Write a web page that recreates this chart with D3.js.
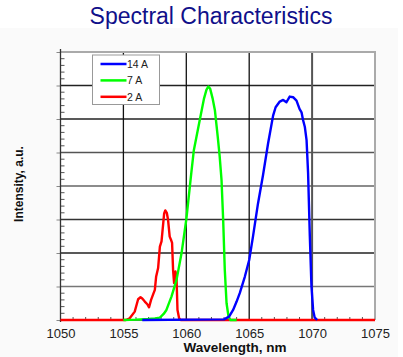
<!DOCTYPE html>
<html>
<head>
<meta charset="utf-8">
<script src="https://cdn.jsdelivr.net/npm/d3@7"></script>
<style>
html,body{margin:0;padding:0;background:#fff;}
svg{display:block;font-family:"Liberation Sans",Arial,sans-serif;}
</style>
</head>
<body>
<svg id="chart" width="403" height="357"></svg>
<script>
// ---- data ----
const seriesNames = ["14 A", "7 A", "2 A"];
const seriesColors = ["#0000ff", "#00ff00", "#ff0000"];
const xTicks = [1050, 1055, 1060, 1065, 1070, 1075];

const blueWl = [1056.5, 1063.0, 1063.4, 1063.72, 1064.0, 1064.25, 1064.65, 1065.0, 1065.3, 1065.7, 1066.1, 1066.5, 1066.9, 1067.1, 1067.43, 1067.7, 1067.96, 1068.22, 1068.49, 1068.76, 1069.0, 1069.16, 1069.28, 1069.42, 1069.56, 1069.68, 1069.82, 1069.95, 1070.08, 1070.2, 1070.4];
const blueVal = [0, 0.02, 0.1, 0.3, 0.55, 0.8, 1.29, 1.79, 2.49, 3.48, 4.33, 5.27, 6.1, 6.35, 6.52, 6.57, 6.5, 6.67, 6.65, 6.55, 6.3, 6.2, 5.97, 5.77, 5.37, 4.4, 2.49, 1.0, 0.3, 0.08, 0];

const greenWl = [1055, 1056, 1057, 1057.5, 1057.9, 1058.2, 1058.42, 1058.82, 1059.22, 1059.62, 1060.0, 1060.4, 1060.6, 1061.07, 1061.4, 1061.6, 1061.75, 1061.9, 1062.1, 1062.27, 1062.5, 1062.65, 1062.8, 1062.93, 1063.06, 1063.2, 1063.35, 1063.5, 1064];
const greenVal = [0, 0.01, 0.03, 0.05, 0.07, 0.18, 0.3, 0.7, 1.19, 1.99, 3.0, 4.4, 5.07, 5.97, 6.6, 6.87, 6.97, 6.9, 6.6, 6.27, 5.47, 4.9, 4.18, 3.0, 1.49, 0.5, 0.12, 0, 0];

const redWl = [1050, 1055.2, 1055.5, 1055.9, 1056.17, 1056.36, 1056.5, 1056.7, 1056.9, 1057.04, 1057.2, 1057.4, 1057.5, 1057.6, 1057.76, 1057.9, 1058.03, 1058.24, 1058.33, 1058.45, 1058.55, 1058.68, 1058.8, 1058.87, 1058.95, 1059.03, 1059.14, 1059.22, 1059.3, 1059.43, 1059.55, 1075];
const redVal = [0, 0, 0.05, 0.25, 0.62, 0.68, 0.64, 0.55, 0.47, 0.38, 0.6, 0.8, 0.9, 1.29, 1.55, 2.19, 2.35, 3.18, 3.27, 3.2, 2.99, 2.49, 2.38, 2.3, 1.49, 1.1, 1.45, 1.29, 0.3, 0.05, 0, 0];

// ---- layout ----
const svg = d3.select("#chart");
const L = 60.5, R = 375, T = 52, B = 320;

svg.append("rect").attr("x", 0).attr("y", 28).attr("width", 398).attr("height", 329).attr("fill", "#fafafa");
svg.append("rect").attr("x", L).attr("y", T).attr("width", R - L).attr("height", B - T).attr("fill", "#fff");

const x = d3.scaleLinear().domain([1050, 1075]).range([L, R]);
const y = d3.scaleLinear().domain([0, 8]).range([B, T]);

// title
svg.append("text").attr("x", 211).attr("y", 24).attr("text-anchor", "middle")
  .attr("font-size", 23).attr("fill", "#10108a").text("Spectral Characteristics");

// grid
const hColors = {1: "#777", 2: "#222", 3: "#333", 4: "#666", 5: "#555", 6: "#222", 7: "#222"};
const g = svg.append("g");
d3.range(1, 8).forEach(v => {
  g.append("line").attr("x1", L).attr("x2", R).attr("y1", y(v)).attr("y2", y(v))
    .attr("stroke", hColors[v]).attr("stroke-width", 1.5);
});
[1055, 1060, 1065].forEach(v => {
  g.append("line").attr("x1", x(v)).attr("x2", x(v)).attr("y1", T).attr("y2", B)
    .attr("stroke", "#111").attr("stroke-width", 1.3);
});
g.append("line").attr("x1", x(1070)).attr("x2", x(1070)).attr("y1", T).attr("y2", B)
  .attr("stroke", "#555").attr("stroke-width", 2);
// top/right borders
g.append("line").attr("x1", L).attr("x2", R + 1).attr("y1", T).attr("y2", T).attr("stroke", "#aaa").attr("stroke-width", 2);
g.append("line").attr("x1", R).attr("x2", R).attr("y1", T).attr("y2", B).attr("stroke", "#aaa").attr("stroke-width", 2);

// minor ticks
d3.range(0, 8).forEach(i => {
  for (let k = 1; k < 5; k++) {
    const v = i + k / 5;
    g.append("line").attr("x1", L).attr("x2", L + 4).attr("y1", y(v)).attr("y2", y(v)).attr("stroke", "#555").attr("stroke-width", 1);
  }
});
d3.range(1051, 1075).forEach(v => {
  if (v % 5 !== 0) g.append("line").attr("x1", x(v)).attr("x2", x(v)).attr("y1", B).attr("y2", B - 3).attr("stroke", "#555").attr("stroke-width", 1);
});

// axes
const yAxis = d3.axisLeft(y).tickValues(d3.range(0, 9)).tickSize(4).tickFormat("");
const ya = svg.append("g").attr("transform", `translate(${L},0)`).call(yAxis);
ya.select(".domain").remove();
ya.selectAll(".tick line").attr("stroke", "#888");
svg.append("line").attr("x1", L).attr("x2", L).attr("y1", T - 3).attr("y2", B + 2).attr("stroke", "#333").attr("stroke-width", 1.3);

const xAxis = d3.axisBottom(x).tickValues(xTicks).tickSize(0).tickPadding(9).tickFormat(d3.format("d"));
const xa = svg.append("g").attr("transform", `translate(0,${B})`).call(xAxis);
xa.select(".domain").remove();
xa.selectAll("text").attr("font-size", 13).attr("fill", "#222").attr("font-family", "Liberation Sans, Arial, sans-serif");
svg.append("line").attr("x1", L).attr("x2", R).attr("y1", B).attr("y2", B).attr("stroke", "#333").attr("stroke-width", 1.3);

// axis titles
svg.append("text").attr("x", 235).attr("y", 352).attr("text-anchor", "middle")
  .attr("font-size", 13.5).attr("font-weight", "bold").attr("fill", "#111").text("Wavelength, nm");
svg.append("text").attr("transform", "translate(23,184) rotate(-90)").attr("text-anchor", "middle")
  .attr("font-size", 12).attr("font-weight", "bold").attr("fill", "#111").text("Intensity, a.u.");

// curves
const line = d3.line().x(d => x(d[0])).y(d => y(d[1])).curve(d3.curveLinear);
const zipped = (w, v) => w.map((d, i) => [d, v[i]]);
const curves = [
  {data: zipped(redWl, redVal), color: seriesColors[2]},
  {data: zipped(greenWl, greenVal), color: seriesColors[1]},
  {data: zipped(blueWl, blueVal), color: seriesColors[0]}
];
curves.forEach(c => {
  svg.append("path").datum(c.data).attr("d", line).attr("fill", "none")
    .attr("stroke", c.color).attr("stroke-width", 2.4).attr("stroke-linejoin", "round");
});

// legend
const lg = svg.append("g");
lg.append("rect").attr("x", 92.5).attr("y", 55).attr("width", 67).attr("height", 49.5)
  .attr("fill", "#fff").attr("stroke", "#999").attr("stroke-width", 1);
seriesNames.forEach((n, i) => {
  const yy = 64 + i * 16.4;
  lg.append("line").attr("x1", 100.5).attr("x2", 126.5).attr("y1", yy).attr("y2", yy)
    .attr("stroke", seriesColors[i]).attr("stroke-width", 2.5);
  lg.append("text").attr("x", 127).attr("y", yy + 3.8).attr("font-size", 10.5).attr("fill", "#222").text(n);
});
</script>
</body>
</html>
